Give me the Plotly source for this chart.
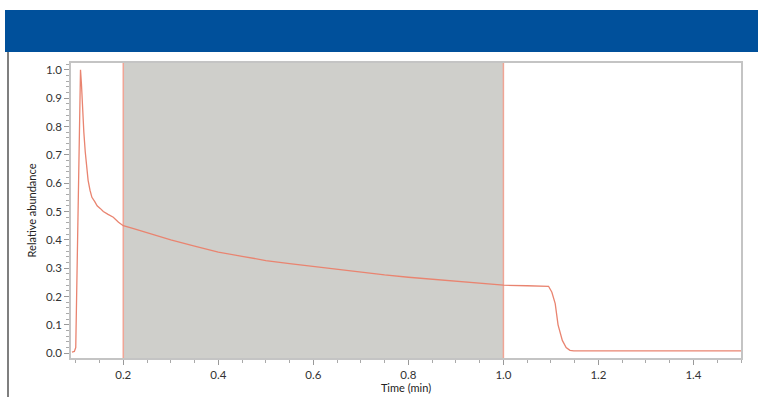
import plotly.graph_objects as go

time_min = [0.092, 0.097, 0.100, 0.104, 0.107, 0.109, 0.110, 0.112, 0.114, 0.117, 0.120,
            0.123, 0.126, 0.130, 0.134, 0.140, 0.145, 0.152, 0.158, 0.168, 0.179, 0.190,
            0.200, 0.22, 0.25, 0.30, 0.35, 0.40, 0.45, 0.50, 0.55, 0.60, 0.65, 0.70,
            0.75, 0.80, 0.85, 0.90, 0.95, 1.00, 1.05, 1.095, 1.102, 1.109, 1.115,
            1.124, 1.132, 1.140, 1.148, 1.20, 1.30, 1.40, 1.50]
abundance = [0.004, 0.006, 0.02, 0.40, 0.75, 0.97, 1.00, 0.95, 0.86, 0.78, 0.71,
             0.66, 0.61, 0.575, 0.55, 0.535, 0.52, 0.51, 0.50, 0.49, 0.48, 0.462,
             0.45, 0.44, 0.425, 0.400, 0.378, 0.357, 0.342, 0.327, 0.316, 0.306, 0.295, 0.286,
             0.276, 0.268, 0.261, 0.254, 0.247, 0.240, 0.238, 0.236, 0.215, 0.175, 0.10,
             0.045, 0.020, 0.010, 0.008, 0.008, 0.008, 0.008, 0.008]

window_start = 0.2
window_end = 1.0

x_ticks = [0.2, 0.4, 0.6, 0.8, 1.0, 1.2, 1.4]
x_tick_labels = ["0.2", "0.4", "0.6", "0.8", "1.0", "1.2", "1.4"]
y_ticks = [0.0, 0.1, 0.2, 0.3, 0.4, 0.5, 0.6, 0.7, 0.8, 0.9, 1.0]
y_tick_labels = ["0.0", "0.1", "0.2", "0.3", "0.4", "0.5", "0.6", "0.7", "0.8", "0.9", "1.0"]

FONT = "Lato"
LINE = "#e98470"

L, R, T, B = 71, 741, 63, 358
W, H = R - L, B - T


def px(x):
    return (x - L) / W


def py(y):
    return (B - y) / H


fig = go.Figure()
fig.add_trace(go.Scatter(x=time_min, y=abundance, mode="lines",
                         line=dict(color=LINE, width=1.3), hoverinfo="skip",
                         showlegend=False))

shapes = [
    dict(type="rect", xref="paper", yref="paper", x0=px(5), x1=px(758), y0=py(52), y1=py(10),
         line=dict(width=0), fillcolor="#00509b", layer="above"),
    dict(type="line", xref="paper", yref="paper", x0=px(8), x1=px(8), y0=py(397), y1=py(52),
         line=dict(color="#555555", width=1.5)),
    dict(type="rect", xref="x", yref="y domain", x0=window_start, x1=window_end, y0=0, y1=1,
         line=dict(width=0), fillcolor="#cfcfcb", layer="below"),
    dict(type="line", xref="x", yref="y domain", x0=window_start, x1=window_start, y0=0, y1=1,
         line=dict(color="#f0a595", width=1.5), layer="below"),
    dict(type="line", xref="x", yref="y domain", x0=window_end, x1=window_end, y0=0, y1=1,
         line=dict(color="#f0a595", width=1.5), layer="below"),
]

fig.update_layout(
    width=758, height=397,
    margin=dict(l=L, r=758 - R, t=T, b=397 - B),
    paper_bgcolor="white", plot_bgcolor="white",
    font=dict(family=FONT, size=11, color="#333333"),
    shapes=shapes,
    xaxis=dict(range=[0.09, 1.5], tickvals=x_ticks, ticktext=x_tick_labels,
               automargin=False,
               showgrid=False, zeroline=False, showline=True, mirror=True,
               linecolor="#c4c4c4", linewidth=1.5, ticks="outside", ticklen=5,
               tickcolor="#999999", tickfont=dict(size=11.5, color="#333333"),
               minor=dict(dtick=0.05, tick0=0, ticks="outside", ticklen=3, tickcolor="#aaaaaa"),
               title=dict(text="Time (min)", font=dict(size=11, color="#222222"), standoff=5)),
    yaxis=dict(range=[-0.017, 1.024], tickvals=y_ticks, ticktext=y_tick_labels,
               automargin=False,
               showgrid=False, zeroline=False, showline=True, mirror=True,
               linecolor="#c4c4c4", linewidth=1.5, ticks="outside", ticklen=5,
               tickcolor="#999999", tickfont=dict(size=11.5, color="#333333"),
               minor=dict(dtick=0.02, tick0=0, ticks="outside", ticklen=3, tickcolor="#aaaaaa"),
               title=dict(text="Relative abundance", font=dict(size=11, color="#222222"), standoff=7)),
)

fig.write_html("out.html")
